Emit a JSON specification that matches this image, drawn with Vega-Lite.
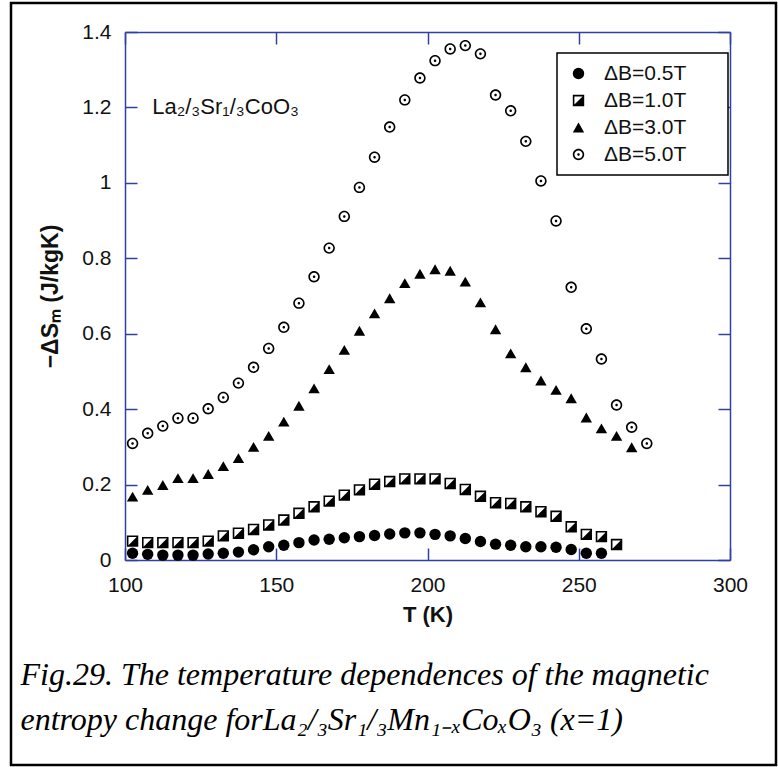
{
  "$schema": "https://vega.github.io/schema/vega-lite/v6.json",
  "width": 765,
  "height": 762,
  "padding": {"left": 11, "top": 3, "right": 2, "bottom": 2},
  "autosize": {"type": "none"},
  "background": "white",
  "config": {
    "view": {"stroke": "black", "strokeWidth": 2.5},
    "axis": {
      "grid": false,
      "domainColor": "#3040a0",
      "tickColor": "#3040a0",
      "domainWidth": 1.5,
      "tickWidth": 1.5,
      "tickSize": -12,
      "labelFont": "Liberation Sans",
      "labelFontSize": 21,
      "labelColor": "#111111",
      "labelFlush": false,
      "labelOverlap": false,
      "titleFont": "Liberation Sans",
      "titleFontSize": 22,
      "titleFontWeight": "bold",
      "titleColor": "#111111"
    },
    "legend": {
      "orient": "none",
      "legendX": 546,
      "legendY": 50,
      "strokeColor": "black",
      "strokeWidth": 1.5,
      "fillColor": "white",
      "padding": 10,
      "rowPadding": 5,
      "labelFont": "Liberation Sans",
      "labelFontSize": 21,
      "labelColor": "#111111",
      "symbolSize": 130,
      "symbolFillColor": "black",
      "symbolStrokeWidth": 0,
      "symbolOffset": 1,
      "labelOffset": 15
    }
  },
  "layer": [
    {
      "data": {
        "values": [
          {"series": "ΔB=0.5T", "T": 102.5, "v": 0.018}, {"series": "ΔB=0.5T", "T": 107.5, "v": 0.015}, {"series": "ΔB=0.5T", "T": 112.5, "v": 0.013}, {"series": "ΔB=0.5T", "T": 117.5, "v": 0.013}, {"series": "ΔB=0.5T", "T": 122.5, "v": 0.013}, {"series": "ΔB=0.5T", "T": 127.5, "v": 0.016}, {"series": "ΔB=0.5T", "T": 132.5, "v": 0.018}, {"series": "ΔB=0.5T", "T": 137.5, "v": 0.021}, {"series": "ΔB=0.5T", "T": 142.5, "v": 0.027}, {"series": "ΔB=0.5T", "T": 147.5, "v": 0.035}, {"series": "ΔB=0.5T", "T": 152.5, "v": 0.039}, {"series": "ΔB=0.5T", "T": 157.5, "v": 0.046}, {"series": "ΔB=0.5T", "T": 162.5, "v": 0.053}, {"series": "ΔB=0.5T", "T": 167.5, "v": 0.055}, {"series": "ΔB=0.5T", "T": 172.5, "v": 0.059}, {"series": "ΔB=0.5T", "T": 177.5, "v": 0.062}, {"series": "ΔB=0.5T", "T": 182.5, "v": 0.065}, {"series": "ΔB=0.5T", "T": 187.5, "v": 0.069}, {"series": "ΔB=0.5T", "T": 192.5, "v": 0.072}, {"series": "ΔB=0.5T", "T": 197.5, "v": 0.072}, {"series": "ΔB=0.5T", "T": 202.5, "v": 0.068}, {"series": "ΔB=0.5T", "T": 207.5, "v": 0.064}, {"series": "ΔB=0.5T", "T": 212.5, "v": 0.057}, {"series": "ΔB=0.5T", "T": 217.5, "v": 0.049}, {"series": "ΔB=0.5T", "T": 222.5, "v": 0.042}, {"series": "ΔB=0.5T", "T": 227.5, "v": 0.039}, {"series": "ΔB=0.5T", "T": 232.5, "v": 0.035}, {"series": "ΔB=0.5T", "T": 237.5, "v": 0.035}, {"series": "ΔB=0.5T", "T": 242.5, "v": 0.034}, {"series": "ΔB=0.5T", "T": 247.5, "v": 0.028}, {"series": "ΔB=0.5T", "T": 252.5, "v": 0.018}, {"series": "ΔB=0.5T", "T": 257.5, "v": 0.018},
          {"series": "ΔB=1.0T", "T": 102.5, "v": 0.050}, {"series": "ΔB=1.0T", "T": 107.5, "v": 0.046}, {"series": "ΔB=1.0T", "T": 112.5, "v": 0.046}, {"series": "ΔB=1.0T", "T": 117.5, "v": 0.046}, {"series": "ΔB=1.0T", "T": 122.5, "v": 0.046}, {"series": "ΔB=1.0T", "T": 127.5, "v": 0.050}, {"series": "ΔB=1.0T", "T": 132.5, "v": 0.064}, {"series": "ΔB=1.0T", "T": 137.5, "v": 0.071}, {"series": "ΔB=1.0T", "T": 142.5, "v": 0.081}, {"series": "ΔB=1.0T", "T": 147.5, "v": 0.093}, {"series": "ΔB=1.0T", "T": 152.5, "v": 0.106}, {"series": "ΔB=1.0T", "T": 157.5, "v": 0.124}, {"series": "ΔB=1.0T", "T": 162.5, "v": 0.141}, {"series": "ΔB=1.0T", "T": 167.5, "v": 0.156}, {"series": "ΔB=1.0T", "T": 172.5, "v": 0.172}, {"series": "ΔB=1.0T", "T": 177.5, "v": 0.186}, {"series": "ΔB=1.0T", "T": 182.5, "v": 0.201}, {"series": "ΔB=1.0T", "T": 187.5, "v": 0.208}, {"series": "ΔB=1.0T", "T": 192.5, "v": 0.215}, {"series": "ΔB=1.0T", "T": 197.5, "v": 0.215}, {"series": "ΔB=1.0T", "T": 202.5, "v": 0.215}, {"series": "ΔB=1.0T", "T": 207.5, "v": 0.203}, {"series": "ΔB=1.0T", "T": 212.5, "v": 0.187}, {"series": "ΔB=1.0T", "T": 217.5, "v": 0.169}, {"series": "ΔB=1.0T", "T": 222.5, "v": 0.152}, {"series": "ΔB=1.0T", "T": 227.5, "v": 0.150}, {"series": "ΔB=1.0T", "T": 232.5, "v": 0.141}, {"series": "ΔB=1.0T", "T": 237.5, "v": 0.128}, {"series": "ΔB=1.0T", "T": 242.5, "v": 0.116}, {"series": "ΔB=1.0T", "T": 247.5, "v": 0.088}, {"series": "ΔB=1.0T", "T": 252.5, "v": 0.068}, {"series": "ΔB=1.0T", "T": 257.5, "v": 0.062}, {"series": "ΔB=1.0T", "T": 262.5, "v": 0.041},
          {"series": "ΔB=3.0T", "T": 102.5, "v": 0.168}, {"series": "ΔB=3.0T", "T": 107.5, "v": 0.186}, {"series": "ΔB=3.0T", "T": 112.5, "v": 0.199}, {"series": "ΔB=3.0T", "T": 117.5, "v": 0.217}, {"series": "ΔB=3.0T", "T": 122.5, "v": 0.217}, {"series": "ΔB=3.0T", "T": 127.5, "v": 0.228}, {"series": "ΔB=3.0T", "T": 132.5, "v": 0.249}, {"series": "ΔB=3.0T", "T": 137.5, "v": 0.270}, {"series": "ΔB=3.0T", "T": 142.5, "v": 0.300}, {"series": "ΔB=3.0T", "T": 147.5, "v": 0.329}, {"series": "ΔB=3.0T", "T": 152.5, "v": 0.367}, {"series": "ΔB=3.0T", "T": 157.5, "v": 0.409}, {"series": "ΔB=3.0T", "T": 162.5, "v": 0.455}, {"series": "ΔB=3.0T", "T": 167.5, "v": 0.506}, {"series": "ΔB=3.0T", "T": 172.5, "v": 0.557}, {"series": "ΔB=3.0T", "T": 177.5, "v": 0.608}, {"series": "ΔB=3.0T", "T": 182.5, "v": 0.654}, {"series": "ΔB=3.0T", "T": 187.5, "v": 0.694}, {"series": "ΔB=3.0T", "T": 192.5, "v": 0.734}, {"series": "ΔB=3.0T", "T": 197.5, "v": 0.759}, {"series": "ΔB=3.0T", "T": 202.5, "v": 0.771}, {"series": "ΔB=3.0T", "T": 207.5, "v": 0.767}, {"series": "ΔB=3.0T", "T": 212.5, "v": 0.738}, {"series": "ΔB=3.0T", "T": 217.5, "v": 0.683}, {"series": "ΔB=3.0T", "T": 222.5, "v": 0.612}, {"series": "ΔB=3.0T", "T": 227.5, "v": 0.548}, {"series": "ΔB=3.0T", "T": 232.5, "v": 0.511}, {"series": "ΔB=3.0T", "T": 237.5, "v": 0.476}, {"series": "ΔB=3.0T", "T": 242.5, "v": 0.451}, {"series": "ΔB=3.0T", "T": 247.5, "v": 0.429}, {"series": "ΔB=3.0T", "T": 252.5, "v": 0.378}, {"series": "ΔB=3.0T", "T": 257.5, "v": 0.349}, {"series": "ΔB=3.0T", "T": 262.5, "v": 0.329}, {"series": "ΔB=3.0T", "T": 267.5, "v": 0.299},
          {"series": "ΔB=5.0T", "T": 102.5, "v": 0.309}, {"series": "ΔB=5.0T", "T": 107.5, "v": 0.336}, {"series": "ΔB=5.0T", "T": 112.5, "v": 0.355}, {"series": "ΔB=5.0T", "T": 117.5, "v": 0.376}, {"series": "ΔB=5.0T", "T": 122.5, "v": 0.376}, {"series": "ΔB=5.0T", "T": 127.5, "v": 0.401}, {"series": "ΔB=5.0T", "T": 132.5, "v": 0.431}, {"series": "ΔB=5.0T", "T": 137.5, "v": 0.469}, {"series": "ΔB=5.0T", "T": 142.5, "v": 0.511}, {"series": "ΔB=5.0T", "T": 147.5, "v": 0.561}, {"series": "ΔB=5.0T", "T": 152.5, "v": 0.617}, {"series": "ΔB=5.0T", "T": 157.5, "v": 0.681}, {"series": "ΔB=5.0T", "T": 162.5, "v": 0.751}, {"series": "ΔB=5.0T", "T": 167.5, "v": 0.827}, {"series": "ΔB=5.0T", "T": 172.5, "v": 0.911}, {"series": "ΔB=5.0T", "T": 177.5, "v": 0.988}, {"series": "ΔB=5.0T", "T": 182.5, "v": 1.068}, {"series": "ΔB=5.0T", "T": 187.5, "v": 1.148}, {"series": "ΔB=5.0T", "T": 192.5, "v": 1.220}, {"series": "ΔB=5.0T", "T": 197.5, "v": 1.278}, {"series": "ΔB=5.0T", "T": 202.5, "v": 1.324}, {"series": "ΔB=5.0T", "T": 207.5, "v": 1.355}, {"series": "ΔB=5.0T", "T": 212.5, "v": 1.364}, {"series": "ΔB=5.0T", "T": 217.5, "v": 1.342}, {"series": "ΔB=5.0T", "T": 222.5, "v": 1.233}, {"series": "ΔB=5.0T", "T": 227.5, "v": 1.191}, {"series": "ΔB=5.0T", "T": 232.5, "v": 1.110}, {"series": "ΔB=5.0T", "T": 237.5, "v": 1.005}, {"series": "ΔB=5.0T", "T": 242.5, "v": 0.899}, {"series": "ΔB=5.0T", "T": 247.5, "v": 0.723}, {"series": "ΔB=5.0T", "T": 252.5, "v": 0.613}, {"series": "ΔB=5.0T", "T": 257.5, "v": 0.533}, {"series": "ΔB=5.0T", "T": 262.5, "v": 0.411}, {"series": "ΔB=5.0T", "T": 267.5, "v": 0.352}, {"series": "ΔB=5.0T", "T": 272.5, "v": 0.309}
        ]
      },
      "mark": {"type": "point", "filled": true, "size": 130, "color": "black", "opacity": 1, "strokeWidth": 0},
      "encoding": {
        "x": {
          "field": "T", "type": "quantitative",
          "scale": {"domain": [100, 300], "range": [114, 719], "nice": false, "zero": false},
          "axis": {"orient": "bottom", "offset": -205, "values": [100, 150, 200, 250, 300], "labelPadding": 26, "title": "T (K)", "titleX": 416.5, "titleY": 54, "titleBaseline": "middle", "titleAlign": "center"}
        },
        "y": {
          "field": "v", "type": "quantitative",
          "scale": {"domain": [0, 1.4], "range": [557, 29], "nice": false, "zero": false},
          "axis": {"orient": "left", "offset": -114, "values": [0, 0.2, 0.4, 0.6, 0.8, 1, 1.2, 1.4], "format": "~g", "labelPadding": 26, "title": "−ΔSₘ (J/kgK)", "titleX": -75, "titleY": 293, "titleAngle": -90, "titleBaseline": "middle", "titleAlign": "center", "titleFontSize": 23}
        },
        "shape": {
          "field": "series", "type": "nominal",
          "scale": {
            "domain": ["ΔB=0.5T", "ΔB=1.0T", "ΔB=3.0T", "ΔB=5.0T"],
            "range": [
              "circle",
              "M-1,-1L1,-1L1,1L-1,1Z M-0.72,-0.72L-0.72,0.72L0.72,0.72L0.72,-0.72Z M0.72,-0.72L0.72,0.72L-0.72,0.72Z",
              "triangle-up",
              "M1,0A1,1,0,1,1,-1,0A1,1,0,1,1,1,0Z M0.72,0A0.72,0.72,0,1,0,-0.72,0A0.72,0.72,0,1,0,0.72,0Z M0.22,0A0.22,0.22,0,1,1,-0.22,0A0.22,0.22,0,1,1,0.22,0Z"
            ]
          },
          "legend": {"title": null, "labelExpr": "datum.label + '\u2003\u2002\u200b'"}
        }
      }
    },
    {
      "data": {"values": [{"T": 109, "v": 1.2, "label": "La₂/₃Sr₁/₃CoO₃"}]},
      "mark": {"type": "text", "align": "left", "baseline": "middle", "font": "Liberation Sans", "fontSize": 22, "color": "#111111"},
      "encoding": {
        "x": {
          "field": "T", "type": "quantitative",
          "axis": {"orient": "top", "offset": -29, "values": [100, 150, 200, 250, 300], "labels": false,
            "title": ["Fig.29. The temperature dependences of the magnetic", "entropy change forLa₂/₃Sr₁/₃Mn₁₋ₓCoₓO₃ (x=1)"],
            "titleX": 9, "titleY": 652, "titleAngle": 0, "titleAlign": "left", "titleBaseline": "alphabetic",
            "titleFont": "Liberation Serif", "titleFontStyle": "italic", "titleFontWeight": "normal", "titleFontSize": 32, "titleLineHeight": 45, "titleColor": "black"}
        },
        "y": {
          "field": "v", "type": "quantitative",
          "axis": {"orient": "right", "offset": -46, "values": [0, 0.2, 0.4, 0.6, 0.8, 1, 1.2, 1.4], "labels": false, "title": null}
        },
        "text": {"field": "label"}
      }
    }
  ],
  "resolve": {"axis": {"x": "independent", "y": "independent"}}
}
